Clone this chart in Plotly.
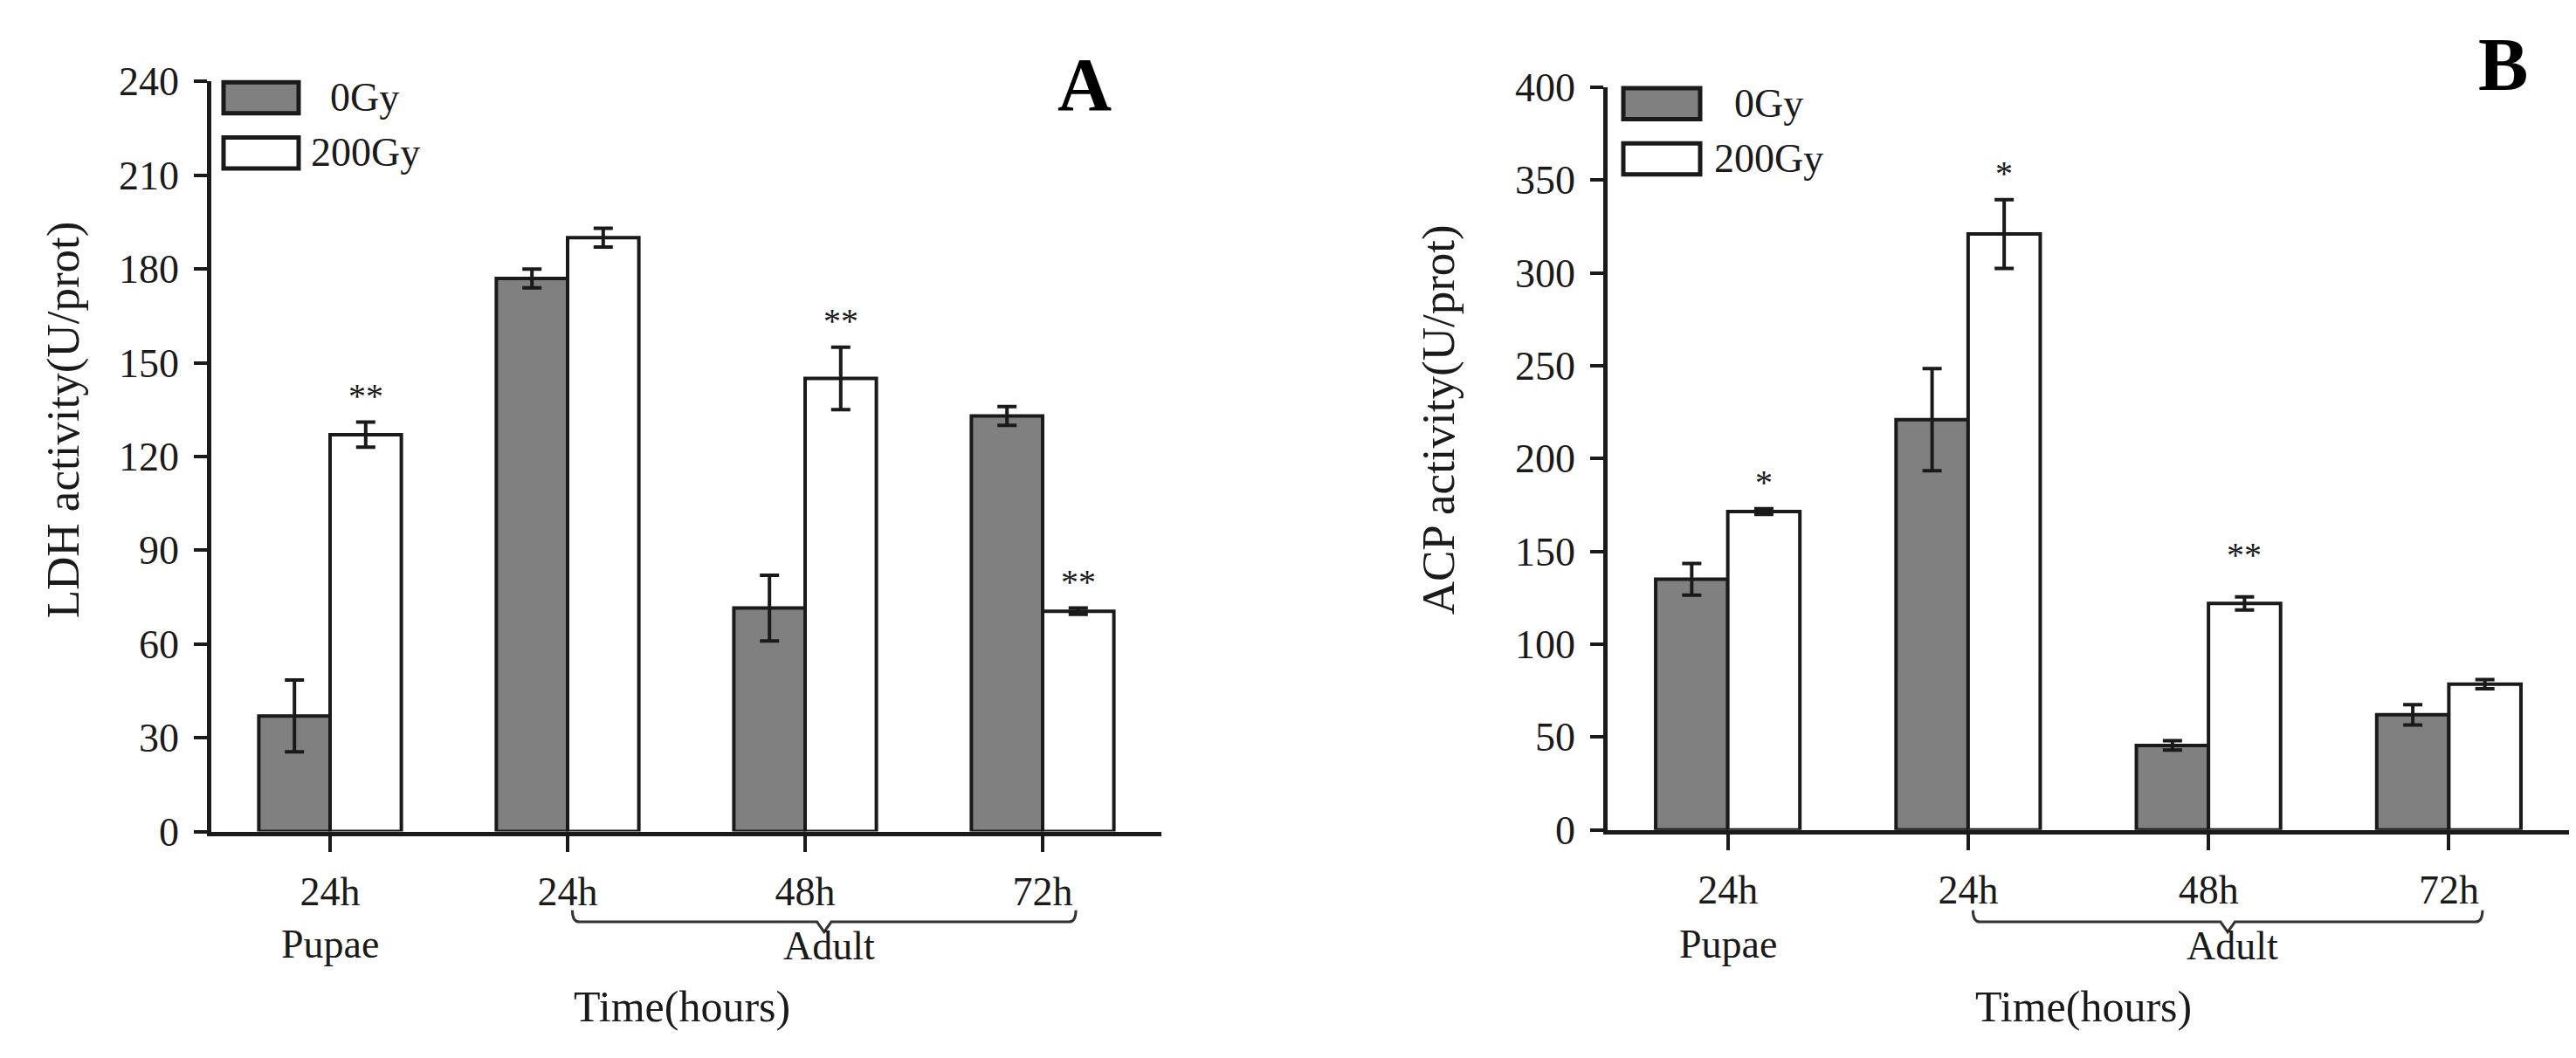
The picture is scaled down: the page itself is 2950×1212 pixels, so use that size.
import plotly.graph_objects as go

# categories
time_labels = ["24h", "24h", "48h", "72h"]
stage_labels = ["Pupae", "Adult"]
dose_labels = ["0Gy", "200Gy"]

# panel A: LDH activity (U/prot)
ldh_0gy = [37, 177, 71.5, 133]
ldh_0gy_err = [11.5, 3, 10.5, 3]
ldh_200gy = [127, 190, 145, 70.5]
ldh_200gy_err = [4, 3, 10, 1]
ldh_sig = ["**", "", "**", "**"]

# panel B: ACP activity (U/prot)
acp_0gy = [135, 221, 45.5, 62]
acp_0gy_err = [8.5, 27.5, 2.5, 5.5]
acp_200gy = [171.5, 321, 122, 78.5]
acp_200gy_err = [1.5, 18.5, 3.5, 2.5]
acp_sig = ["*", "*", "**", ""]

W, H = 2950, 1212
FONT = "Liberation Serif, Times New Roman, serif"
INK = "#1a1a1a"
GREY = "#808080"

x_pos = list(range(len(time_labels)))

panels = [
    dict(xa="x", ya="y", vals=(ldh_0gy, ldh_0gy_err, ldh_200gy, ldh_200gy_err), sig=ldh_sig,
         ymax=240, dtick=30, title="LDH activity(U/prot)", letter="A",
         xdom=(234, 1322), ydom=(63, 960), title_x=64, letter_xy=(1234, 67),
         legend_box=(14, 100), legend_text=(134, 112), big_star=None),
    dict(xa="x2", ya="y2", vals=(acp_0gy, acp_0gy_err, acp_200gy, acp_200gy_err), sig=acp_sig,
         ymax=400, dtick=50, title="ACP activity(U/prot)", letter="B",
         xdom=(1833, 2934), ydom=(70, 958), title_x=1639, letter_xy=(2858, 43),
         legend_box=(18, 106), legend_text=(143, 120), big_star=2),
]

fig = go.Figure()
annotations = []
shapes = []


def note(**kw):
    kw.setdefault("showarrow", False)
    kw.setdefault("xanchor", "center")
    kw.setdefault("yanchor", "middle")
    annotations.append(kw)


for i, p in enumerate(panels):
    m0, e0, m1, e1 = p["vals"]
    fig.add_trace(go.Bar(
        x=x_pos, y=m0, name=dose_labels[0], xaxis=p["xa"], yaxis=p["ya"],
        marker=dict(color=GREY, line=dict(color=INK, width=4)),
        error_y=dict(type="data", array=e0, color=INK, thickness=4, width=11),
        offsetgroup="0", showlegend=False,
    ))
    fig.add_trace(go.Bar(
        x=x_pos, y=m1, name=dose_labels[1], xaxis=p["xa"], yaxis=p["ya"],
        marker=dict(color="white", line=dict(color=INK, width=4)),
        error_y=dict(type="data", array=e1, color=INK, thickness=4, width=11),
        offsetgroup="1", showlegend=False,
    ))

    sfx = "" if i == 0 else "2"
    x0, x1 = p["xdom"]
    ytop, ybot = p["ydom"]
    fig.layout["xaxis" + sfx] = dict(
        domain=[x0 / W, x1 / W], range=[-0.5, 3.5], anchor="y" + sfx,
        tickvals=x_pos, ticktext=time_labels, ticks="outside", ticklen=18, tickwidth=4,
        tickcolor=INK, showline=True, linewidth=5, linecolor=INK, showgrid=False,
        zeroline=False, ticklabelstandoff=6,
        tickfont=dict(family=FONT, size=46, color=INK),
    )
    fig.layout["yaxis" + sfx] = dict(
        domain=[1 - ybot / H, 1 - ytop / H], range=[0, p["ymax"]], dtick=p["dtick"],
        anchor="x" + sfx, ticks="outside", ticklen=15, tickwidth=4, tickcolor=INK,
        showline=True, linewidth=4.5, linecolor=INK, showgrid=False, zeroline=False,
        ticklabelstandoff=8, tickfont=dict(family=FONT, size=46, color=INK),
    )

    # significance marks above the 200Gy bars
    for k, s in enumerate(p["sig"]):
        if not s:
            continue
        note(x=x_pos[k] + 0.15, y=m1[k] + e1[k], xref=p["xa"], yref=p["ya"], text=s,
             yshift=48 if p["big_star"] == k else 30,
             font=dict(family=FONT, size=40, color=INK))

    # legend drawn as boxes + text
    dx = "x%s domain" % sfx
    dy = "y%s domain" % sfx
    wpx = x1 - x0
    hpx = ybot - ytop
    bl, br = p["legend_box"]
    for j, (fill, lab) in enumerate(zip([GREY, "white"], dose_labels)):
        top_px = ytop + 1 + j * 66
        shapes.append(dict(
            type="rect", xref=dx, yref=dy,
            x0=bl / wpx, x1=br / wpx,
            y0=(ybot - top_px - 37) / hpx, y1=(ybot - top_px) / hpx,
            fillcolor=fill, line=dict(color=INK, width=5),
        ))
        note(xref=dx, yref=dy, x=p["legend_text"][j] / wpx, xanchor="left",
             y=(ybot - top_px - 18) / hpx, text=lab,
             font=dict(family=FONT, size=46, color=INK))

    # y title
    note(xref="paper", yref="paper", x=p["title_x"] / W, y=1 - 468 / H,
         text=p["title"], textangle=-90, font=dict(family=FONT, size=53, color=INK))
    # panel letter
    lx, ly = p["letter_xy"]
    note(xref="paper", yref="paper", x=lx / W, y=1 - ly / H, text="<b>%s</b>" % p["letter"],
         font=dict(family=FONT, size=86, color="black"))

    # stage labels and brace under the adult groups
    note(xref=p["xa"], yref="paper", x=x_pos[0], y=1 - 1095 / H, text=stage_labels[0],
         font=dict(family=FONT, size=46, color=INK))
    note(xref=p["xa"], yref="paper", x=x_pos[2] + 0.1, y=1 - 1097 / H, text=stage_labels[1],
         font=dict(family=FONT, size=46, color=INK))
    note(xref=p["xa"], yref="paper", x=x_pos[1] + 0.48, y=1 - 1169 / H, text="Time(hours)",
         font=dict(family=FONT, size=50, color=INK))
    bx0, bx1 = x_pos[1] + 0.02, x_pos[3] + 0.14
    bm = (bx0 + bx1) / 2
    yt, yl, yp = 1 - 1054 / H, 1 - 1068 / H, 1 - 1080 / H
    shapes.append(dict(
        type="path", xref=p["xa"], yref="paper",
        path=f"M {bx0},{yt} Q {bx0},{yl} {bx0 + 0.03},{yl} L {bm - 0.03},{yl} "
             f"L {bm},{yp} L {bm + 0.03},{yl} L {bx1 - 0.03},{yl} Q {bx1},{yl} {bx1},{yt}",
        line=dict(color="#333333", width=3),
    ))

fig.update_layout(
    width=W, height=H, margin=dict(l=0, r=0, t=0, b=0),
    barmode="group", bargap=0.4, bargroupgap=0,
    plot_bgcolor="white", paper_bgcolor="white",
    font=dict(family=FONT, color=INK),
    annotations=annotations, shapes=shapes,
)

fig.write_html("out.html")
